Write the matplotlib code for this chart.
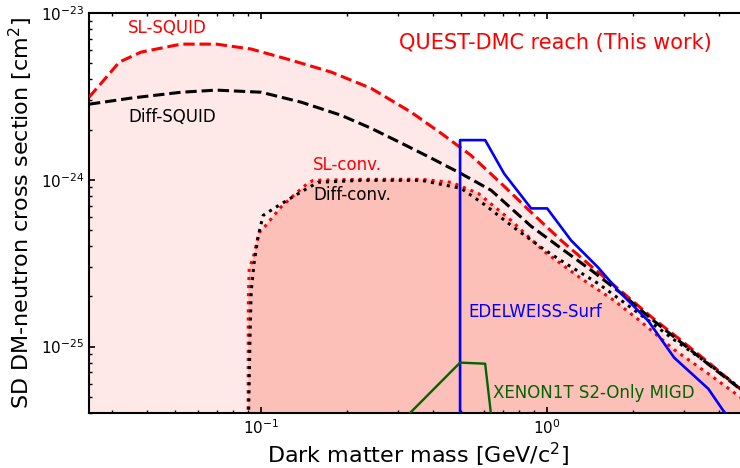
import matplotlib.pyplot as plt

# QUEST-DMC projected reach
sl_squid_mass = [0.025, 0.0276, 0.0319, 0.038, 0.0525, 0.0696, 0.0923, 0.127, 0.176,
                 0.242, 0.335, 0.426, 0.542, 0.69, 0.88, 1.12, 1.43, 1.82, 2.31, 2.94,
                 3.75, 4.77, 5.0]
sl_squid_xsec = [3.13e-24, 3.80e-24, 5.08e-24, 5.83e-24, 6.51e-24, 6.51e-24, 6.08e-24,
                 5.22e-24, 4.42e-24, 3.54e-24, 2.54e-24, 1.90e-24, 1.40e-24, 9.53e-25,
                 6.38e-25, 4.33e-25, 3.02e-25, 2.14e-25, 1.51e-25, 1.09e-25, 7.79e-26,
                 5.51e-26, 5.15e-26]

diff_squid_mass = [0.025, 0.0351, 0.0525, 0.0696, 0.1, 0.138, 0.19, 0.242, 0.309, 0.393,
                   0.50, 0.637, 0.88, 1.12, 1.43, 1.82, 2.31, 2.94, 3.75, 4.77, 5.0]
diff_squid_xsec = [2.84e-24, 3.09e-24, 3.35e-24, 3.45e-24, 3.35e-24, 2.92e-24, 2.44e-24,
                   2.04e-24, 1.66e-24, 1.35e-24, 1.09e-24, 8.65e-25, 5.26e-25, 3.88e-25,
                   2.86e-25, 2.08e-25, 1.47e-25, 1.06e-25, 7.59e-26, 5.51e-26, 5.15e-26]

sl_conv_mass = [0.0900, 0.0901, 0.0902, 0.0908, 0.0938, 0.0984, 0.1016, 0.117,
                0.130, 0.144, 0.152, 0.224, 0.363, 0.462, 0.574, 0.748, 0.976, 1.315,
                1.715, 2.13, 2.78, 3.66, 4.77, 5.0]
sl_conv_xsec = [3.0e-26, 1.25e-25, 1.97e-25, 2.94e-25, 3.42e-25, 4.84e-25,
                5.10e-25, 6.84e-25, 8.07e-25, 9.40e-25, 9.93e-25, 1.007e-24, 1.007e-24,
                9.66e-25, 8.30e-25, 5.71e-25, 3.72e-25, 2.56e-25, 1.89e-25, 1.41e-25,
                9.59e-26, 6.88e-26, 4.94e-26, 4.66e-26]

diff_conv_mass = [0.0901, 0.0915, 0.0923, 0.0945, 0.0976, 0.1016, 0.111, 0.1273,
                  0.141, 0.158, 0.224, 0.363, 0.50, 0.602, 0.748, 0.976, 1.147, 1.508,
                  1.967, 2.78, 3.66, 4.77, 5.0]
diff_conv_xsec = [3.0e-26, 1.25e-25, 2.17e-25, 3.19e-25, 4.60e-25, 6.12e-25,
                  6.75e-25, 7.80e-25, 8.65e-25, 9.66e-25, 9.93e-25, 9.93e-25, 8.89e-25,
                  7.13e-25, 5.33e-25, 3.82e-25, 3.19e-25, 2.39e-25, 1.71e-25, 1.10e-25,
                  7.90e-26, 5.59e-26, 5.2e-26]

# existing limits
edelweiss_mass = [0.496, 0.496, 0.607, 0.707, 0.879, 1.0, 1.213, 1.508, 1.771, 2.255,
                  2.78, 3.66, 4.13, 4.6]
edelweiss_xsec = [3.0e-26, 1.73e-24, 1.73e-24, 1.09e-24, 6.74e-25, 6.74e-25, 4.33e-25,
                  2.98e-25, 2.17e-25, 1.43e-25, 8.59e-26, 5.59e-26, 4.13e-26, 3.3e-26]

xenon_mass = [0.2805, 0.496, 0.607, 0.648]
xenon_xsec = [3.0e-26, 8.02e-26, 7.90e-26, 3.0e-26]

fig = plt.figure(figsize=(7.4, 4.68), dpi=100)
ax = fig.add_axes([0.1203, 0.1175, 0.8892, 0.8547])
ax.set_xscale("log")
ax.set_yscale("log")

# shaded reach regions
ax.fill_between(sl_squid_mass, sl_squid_xsec, 1e-27, color="#fee8e8", lw=0, zorder=1)
ax.fill_between(sl_conv_mass, sl_conv_xsec, 1e-27, color="#fcc0b8", lw=0, zorder=1)

ax.plot(sl_squid_mass, sl_squid_xsec, "--", color="red", lw=2.2, zorder=3)
ax.plot(diff_squid_mass, diff_squid_xsec, "--", color="black", lw=2.2, zorder=3)
ax.plot(sl_conv_mass, sl_conv_xsec, ":", color="red", lw=2.2, zorder=3)
ax.plot(diff_conv_mass, diff_conv_xsec, ":", color="black", lw=2.2, zorder=3)
ax.plot(edelweiss_mass, edelweiss_xsec, "-", color="blue", lw=1.9, zorder=4)
ax.plot(xenon_mass, xenon_xsec, "-", color="darkgreen", lw=1.7, zorder=4)

ax.text(0.0343, 8.13e-24, "SL-SQUID", color="red", fontsize=12, va="center")
ax.text(0.0343, 2.37e-24, "Diff-SQUID", color="black", fontsize=12, va="center")
ax.text(0.152, 1.22e-24, "SL-conv.", color="red", fontsize=12, va="center")
ax.text(0.152, 8.07e-25, "Diff-conv.", color="black", fontsize=12, va="center")
ax.text(0.304, 6.6e-24, "QUEST-DMC reach (This work)", color="red", fontsize=15,
        va="center")
ax.text(0.529, 1.62e-25, "EDELWEISS-Surf", color="blue", fontsize=12, va="center")
ax.text(0.648, 5.29e-26, "XENON1T S2-Only MIGD", color="darkgreen", fontsize=12,
        va="center")

ax.set_xlim(0.025, 5.0)
ax.set_ylim(4e-26, 1e-23)
ax.set_xlabel("Dark matter mass [GeV/c$^2$]", fontsize=16, labelpad=3)
ax.set_ylabel("SD DM-neutron cross section [cm$^2$]", fontsize=16)

ax.tick_params(which="both", direction="in", top=True, right=True, labelsize=11)
ax.tick_params(which="major", length=4.5, width=1.2)
ax.tick_params(which="minor", length=2.5, width=1.0)
for side in ax.spines.values():
    side.set_linewidth(1.5)

fig.savefig("out.png", dpi=100)
